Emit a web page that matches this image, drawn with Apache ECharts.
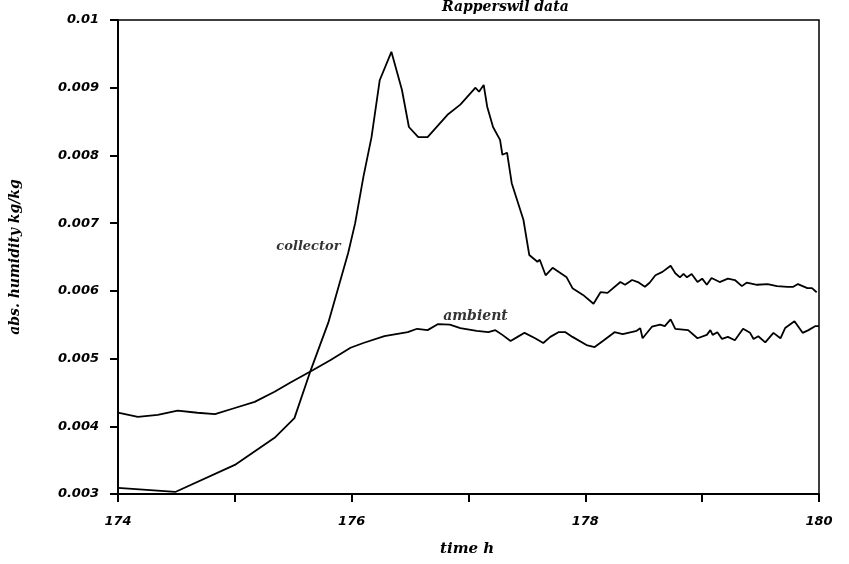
<!DOCTYPE html>
<html>
<head>
<meta charset="utf-8">
<script src="https://cdn.jsdelivr.net/npm/echarts@6/dist/echarts.min.js"></script>
<style>
  html, body { margin: 0; padding: 0; background: #fff; }
  #chart { width: 849px; height: 564px; }
</style>
</head>
<body>
<div id="chart"></div>
<script>
// Rapperswil measurements: absolute humidity of collector air and ambient air over time
const collectorTime = [174.0, 174.49, 175.0, 175.34, 175.51, 175.65, 175.80, 175.97, 176.03, 176.10,
  176.17, 176.24, 176.34, 176.43, 176.49, 176.57, 176.65, 176.82, 176.93, 177.06,
  177.09, 177.13, 177.16, 177.21, 177.27, 177.29, 177.33, 177.37, 177.47, 177.52,
  177.59, 177.61, 177.66, 177.72, 177.84, 177.89, 177.98, 178.07, 178.13, 178.19,
  178.30, 178.34, 178.40, 178.45, 178.51, 178.55, 178.60, 178.66, 178.73, 178.77,
  178.81, 178.84, 178.87, 178.91, 178.96, 179.00, 179.04, 179.08, 179.15, 179.22,
  179.28, 179.34, 179.38, 179.47, 179.56, 179.64, 179.73, 179.78, 179.82, 179.90,
  179.94, 179.98];
const collectorHumidity = [0.00309, 0.00303, 0.00343, 0.00383, 0.00412, 0.00483, 0.00553, 0.00656, 0.00700, 0.00768,
  0.00827, 0.00911, 0.00953, 0.00897, 0.00842, 0.00827, 0.00827, 0.00860, 0.00875, 0.00900,
  0.00894, 0.00904, 0.00872, 0.00842, 0.00823, 0.00801, 0.00804, 0.00759, 0.00705, 0.00653,
  0.00643, 0.00646, 0.00623, 0.00634, 0.00620, 0.00604, 0.00594, 0.00581, 0.00598, 0.00597,
  0.00613, 0.00609, 0.00616, 0.00613, 0.00606, 0.00612, 0.00623, 0.00628, 0.00637, 0.00626,
  0.00620, 0.00625, 0.00620, 0.00625, 0.00613, 0.00618, 0.00609, 0.00619, 0.00613, 0.00618,
  0.00616, 0.00607, 0.00612, 0.00609, 0.00610, 0.00607, 0.00606, 0.00606, 0.00610, 0.00604,
  0.00604, 0.00598];

const ambientTime = [174.0, 174.17, 174.34, 174.51, 174.68, 174.83, 175.0, 175.17, 175.34, 175.48,
  175.67, 175.82, 175.99, 176.10, 176.28, 176.48, 176.56, 176.65, 176.74, 176.84,
  176.93, 177.07, 177.17, 177.23, 177.29, 177.36, 177.42, 177.48, 177.57, 177.64,
  177.70, 177.77, 177.83, 177.89, 178.01, 178.08, 178.15, 178.25, 178.32, 178.44,
  178.47, 178.49, 178.57, 178.64, 178.68, 178.73, 178.77, 178.88, 178.96, 179.04,
  179.07, 179.09, 179.13, 179.17, 179.22, 179.28, 179.35, 179.41, 179.44, 179.48,
  179.54, 179.61, 179.67, 179.71, 179.79, 179.86, 179.91, 179.97, 180.0];
const ambientHumidity = [0.00420, 0.00414, 0.00417, 0.00423, 0.00420, 0.00418, 0.00427, 0.00436, 0.00451, 0.00465,
  0.00483, 0.00498, 0.00516, 0.00523, 0.00533, 0.00539, 0.00544, 0.00542, 0.00551, 0.00550,
  0.00545, 0.00541, 0.00539, 0.00542, 0.00535, 0.00526, 0.00532, 0.00538, 0.00530, 0.00523,
  0.00532, 0.00539, 0.00539, 0.00532, 0.00520, 0.00517, 0.00526, 0.00539, 0.00536, 0.00541,
  0.00545, 0.00530, 0.00547, 0.00550, 0.00548, 0.00558, 0.00544, 0.00542, 0.00530, 0.00535,
  0.00542, 0.00535, 0.00539, 0.00529, 0.00532, 0.00527, 0.00544, 0.00538, 0.00529, 0.00533,
  0.00524, 0.00538, 0.00530, 0.00545, 0.00555, 0.00538, 0.00542, 0.00548, 0.00548];

// axis ticks and their labels
const xTickValues = [174, 175, 176, 177, 178, 179, 180];
const xTickLabels = ['174', '', '176', '', '178', '', '180'];
const yTickValues = [0.003, 0.004, 0.005, 0.006, 0.007, 0.008, 0.009, 0.01];
const yTickLabels = ['0.003', '0.004', '0.005', '0.006', '0.007', '0.008', '0.009', '0.01'];

// curve names written next to each line (anchor in data units)
const curveNames = ['collector', 'ambient'];
const curveNameTime = [175.63, 177.06];
const curveNameHumidity = [0.00666, 0.00563];
const curveNameSize = [13, 14];

const zip = (xs, ys) => xs.map((x, i) => [x, ys[i]]);

const FONT = '"DejaVu Sans", sans-serif';
const SCRIPT = '"DejaVu Serif", serif';

const chart = echarts.init(document.getElementById('chart'), null, { renderer: 'canvas' });

chart.setOption({
  backgroundColor: '#ffffff',
  animation: false,
  grid: {
    left: 118, right: 30, top: 20, bottom: 70,
    show: true, borderColor: '#000', borderWidth: 1.5
  },
  xAxis: {
    type: 'value',
    min: 174, max: 180, interval: 1,
    axisLine: { show: true, onZero: false, lineStyle: { color: '#000', width: 2 } },
    axisTick: { show: true, length: 8, lineStyle: { color: '#000', width: 2 } },
    splitLine: { show: false },
    axisLabel: {
      margin: 21,
      color: '#000',
      fontFamily: FONT, fontStyle: 'italic', fontWeight: 'bold', fontSize: 13,
      formatter: v => {
        const i = xTickValues.findIndex(t => Math.abs(t - v) < 1e-6);
        return i >= 0 ? xTickLabels[i] : '';
      }
    }
  },
  yAxis: {
    type: 'value',
    min: 0.003, max: 0.01, interval: 0.001,
    name: 'abs. humidity kg/kg',
    nameLocation: 'middle',
    nameGap: 96,
    nameTextStyle: {
      color: '#000', fontFamily: SCRIPT, fontStyle: 'italic', fontWeight: 'bold', fontSize: 14
    },
    axisLine: { show: true, onZero: false, lineStyle: { color: '#000', width: 2 } },
    axisTick: { show: true, length: 8, lineStyle: { color: '#000', width: 2 } },
    splitLine: { show: false },
    axisLabel: {
      margin: 19,
      color: '#000',
      fontFamily: FONT, fontStyle: 'italic', fontWeight: 'bold', fontSize: 13,
      formatter: v => {
        const i = yTickValues.findIndex(t => Math.abs(t - v) < 1e-9);
        return i >= 0 ? yTickLabels[i] : '';
      }
    }
  },
  graphic: [
    {
      type: 'text', left: 442, top: 0,
      style: {
        text: 'Rapperswil data', fill: '#000', textAlign: 'center',
        font: 'italic bold 14px "DejaVu Serif", serif'
      }
    },
    {
      type: 'text', left: 440, top: 542,
      style: {
        text: 'time h', fill: '#000', textAlign: 'center',
        font: 'italic bold 15px "DejaVu Serif", serif'
      }
    }
  ],
  series: [
    {
      name: 'collector',
      type: 'line',
      data: zip(collectorTime, collectorHumidity),
      showSymbol: false,
      lineStyle: { color: '#000', width: 1.8 },
      z: 3
    },
    {
      name: 'ambient',
      type: 'line',
      data: zip(ambientTime, ambientHumidity),
      showSymbol: false,
      lineStyle: { color: '#000', width: 1.8 },
      z: 3
    },
    {
      name: 'curve names',
      type: 'scatter',
      symbolSize: 0,
      data: curveNames.map((n, i) => ({
        name: n,
        value: [curveNameTime[i], curveNameHumidity[i]],
        label: { fontSize: curveNameSize[i] }
      })),
      label: {
        show: true, position: 'inside', formatter: p => p.name,
        color: '#000', fontFamily: SCRIPT, fontStyle: 'italic', fontWeight: 'bold'
      },
      silent: true,
      z: 4
    }
  ]
});
</script>
</body>
</html>
